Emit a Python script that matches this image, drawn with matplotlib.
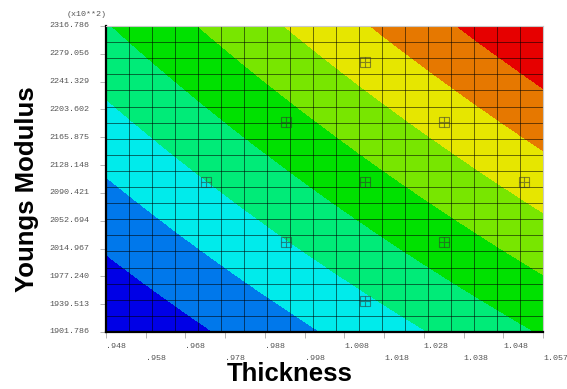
import numpy as np
import matplotlib
matplotlib.use("Agg")
import matplotlib.pyplot as plt
from matplotlib.colors import ListedColormap
from matplotlib.transforms import blended_transform_factory

# axis ranges and tick labels (as printed on the chart)
thick_min, thick_max = 0.948, 1.057
ym_min, ym_max = 1901.786, 2316.786
x_ticklabels = [".948", ".958", ".968", ".978", ".988", ".998",
                "1.008", "1.018", "1.028", "1.038", "1.048", "1.057"]
y_ticklabels = ["1901.786", "1939.513", "1977.240", "2014.967", "2052.694",
                "2090.421", "2128.148", "2165.875", "2203.602", "2241.329",
                "2279.056", "2316.786"]

dp_thick = [1.0126, 0.9929, 1.0323, 0.9729, 1.0126, 1.0523, 0.9929, 1.0323, 1.0126]
dp_ym = [2268.0, 2186.6, 2186.6, 2105.2, 2105.2, 2105.2, 2023.8, 2023.8, 1943.8]
dp_resp = [6.33, 4.60, 6.31, 2.92, 4.57, 6.22, 2.90, 4.47, 2.82]

band_colors = ["#0000e6", "#0078eb", "#00ebeb", "#00eb78", "#00e100",
               "#78e600", "#e6e600", "#e67800", "#e60000"]
n_grid = 20

# full quadratic response surface fitted to the design points
def norm(t, y):
    return (np.asarray(t) - thick_min) / (thick_max - thick_min), \
           (np.asarray(y) - ym_min) / (ym_max - ym_min)

def basis(u, v):
    return np.stack([np.ones_like(u), u, v, u * v, u ** 2, v ** 2], axis=-1)

u, v = norm(dp_thick, dp_ym)
coef, *_ = np.linalg.lstsq(basis(u, v), np.asarray(dp_resp), rcond=None)

gx = np.linspace(thick_min, thick_max, n_grid)
gy = np.linspace(ym_min, ym_max, n_grid)
GX, GY = np.meshgrid(gx, gy)
GU, GV = norm(GX, GY)
Z = basis(GU, GV) @ coef
levels = np.linspace(Z.min(), Z.max(), len(band_colors) + 1)

fig = plt.figure(figsize=(5.67, 3.89), dpi=100)
ax = fig.add_axes([106 / 567, 1 - 332 / 389, 437 / 567, 306 / 389])

ax.contourf(GX, GY, Z, levels=levels, cmap=ListedColormap(band_colors))

# mesh lines
for xv in gx:
    ax.axvline(xv, color="black", lw=0.7, alpha=0.55)
for yv in gy:
    ax.axhline(yv, color="black", lw=0.7, alpha=0.55)

# design point markers
ax.scatter(dp_thick, dp_ym, marker="s", s=50, facecolors="none",
           edgecolors="#333333", linewidths=0.8, alpha=0.55, zorder=5)
ax.scatter(dp_thick, dp_ym, marker="+", s=50, color="#333333",
           linewidths=0.8, alpha=0.55, zorder=5)

ax.set_xlim(thick_min, thick_max)
ax.set_ylim(ym_min, ym_max)

for side in ["top", "right"]:
    ax.spines[side].set_color("#c8c8c8")
    ax.spines[side].set_linewidth(0.8)
for side in ["left", "bottom"]:
    ax.spines[side].set_color("black")
    ax.spines[side].set_linewidth(1.6)

xt = np.linspace(thick_min, thick_max, len(x_ticklabels))
yt = np.linspace(ym_min, ym_max, len(y_ticklabels))
ax.set_xticks(xt)
ax.set_yticks(yt)
ax.set_xticklabels([])
ax.set_yticklabels([])
ax.tick_params(axis="both", direction="out", length=4, width=0.6, color="#aaaaaa")

tick_font = dict(family="Liberation Mono", size=6.0, color="#555555")
xtrans = blended_transform_factory(ax.transData, fig.transFigure)
ytrans = blended_transform_factory(fig.transFigure, ax.transData)
for i, (xv, lab) in enumerate(zip(xt, x_ticklabels)):
    ypix = 347 if i % 2 == 0 else 358
    ax.text(xv, 1 - ypix / 389, lab, transform=xtrans, ha="left", va="center", **tick_font)
for yv, lab in zip(yt, y_ticklabels):
    ax.text(89 / 567, yv, lab, transform=ytrans, ha="right", va="center", **tick_font)
fig.text(107 / 567, 1 - 14 / 389, "(x10**2)", ha="right", va="center", **tick_font)

fig.text(290 / 567, 1 - 374 / 389, "Thickness", ha="center", va="center",
         family="Liberation Sans", weight="bold", size=18.5)
fig.text(27 / 567, 1 - 189 / 389, "Youngs Modulus", ha="center", va="center",
         rotation=90, family="Liberation Sans", weight="bold", size=18.5)

fig.savefig("out.png", dpi=100)
